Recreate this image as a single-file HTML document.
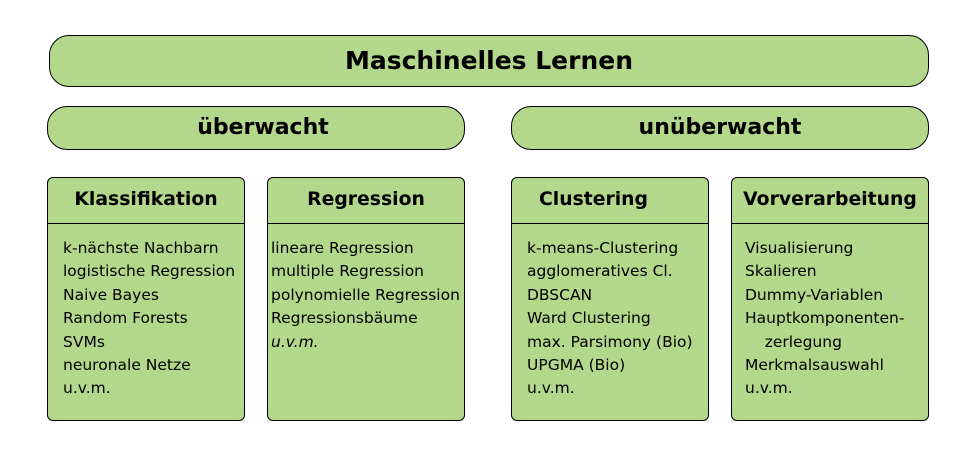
<!DOCTYPE html>
<html><head><meta charset="utf-8"><style>
body{margin:0;width:976px;height:456px;background:#fff;position:relative;font-family:"DejaVu Sans","Liberation Sans",sans-serif;overflow:hidden}
.b{position:absolute;background:#b3d78b;border:1.5px solid #000;box-sizing:border-box}
.r{border-radius:20px;display:flex;align-items:center;justify-content:center;font-weight:bold}
.h{position:absolute;left:0;right:0;top:0;height:46px;padding-bottom:3px;box-sizing:border-box;border-bottom:1.5px solid #000;display:flex;align-items:center;justify-content:center;font-weight:bold;font-size:18.8px}
.l{position:absolute;font-size:15.5px;line-height:23.4px;white-space:nowrap;top:59px}
</style></head><body>
<div class="b r" style="left:49px;top:35px;width:880px;height:52px;font-size:25px;padding-bottom:2px">Maschinelles Lernen</div>
<div class="b r" style="left:47px;top:106px;width:418px;height:44px;font-size:22px;padding-bottom:2px;padding-left:14px">überwacht</div>
<div class="b r" style="left:511px;top:106px;width:418px;height:44px;font-size:22px;padding-bottom:2px">unüberwacht</div>

<div class="b" style="left:47px;top:177px;width:198px;height:244px;border-radius:6px">
<div class="h">Klassifikation</div>
<div class="l" style="left:15px">k-nächste Nachbarn<br>logistische Regression<br>Naive Bayes<br>Random Forests<br>SVMs<br>neuronale Netze<br>u.v.m.</div></div>

<div class="b" style="left:267px;top:177px;width:198px;height:244px;border-radius:6px">
<div class="h">Regression</div>
<div class="l" style="left:3px">lineare Regression<br>multiple Regression<br>polynomielle Regression<br>Regressionsbäume<br><i>u.v.m.</i></div></div>

<div class="b" style="left:511px;top:177px;width:198px;height:244px;border-radius:6px">
<div class="h" style="justify-content:flex-start;padding-left:27px">Clustering</div>
<div class="l" style="left:15px">k-means-Clustering<br>agglomeratives Cl.<br>DBSCAN<br>Ward Clustering<br>max. Parsimony (Bio)<br>UPGMA (Bio)<br>u.v.m.</div></div>

<div class="b" style="left:731px;top:177px;width:198px;height:244px;border-radius:6px">
<div class="h">Vorverarbeitung</div>
<div class="l" style="left:13px">Visualisierung<br>Skalieren<br>Dummy-Variablen<br>Hauptkomponenten-<br>&nbsp;&nbsp;&nbsp;&nbsp;zerlegung<br>Merkmalsauswahl<br>u.v.m.</div></div>
</body></html>
